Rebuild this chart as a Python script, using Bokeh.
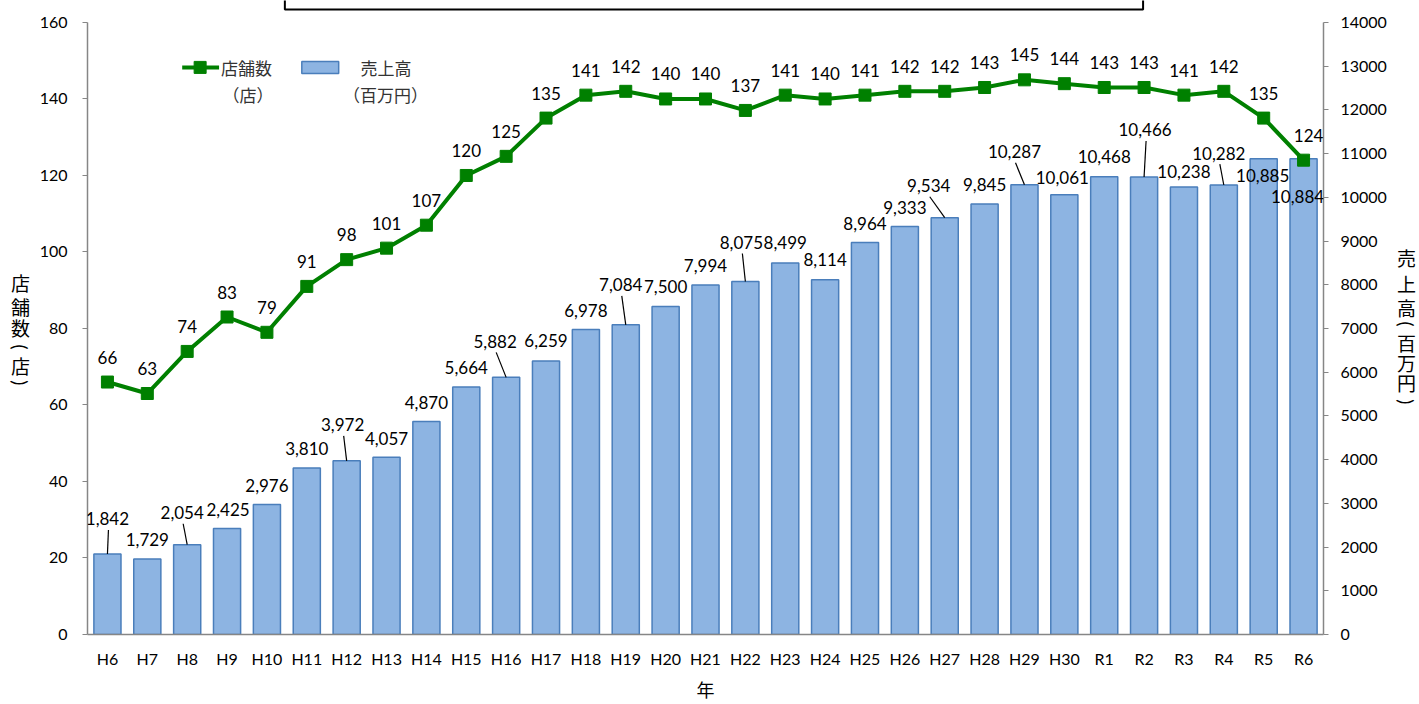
import math
from bokeh.plotting import figure
from bokeh.layouts import row
from bokeh.models import Range1d, LinearAxis, FixedTicker, LabelSet, ColumnDataSource
from bokeh.core.properties import value
from bokeh.embed import file_html
from bokeh.resources import INLINE

# ---------------- data ----------------
years = ["H6", "H7", "H8", "H9", "H10", "H11", "H12", "H13", "H14", "H15",
         "H16", "H17", "H18", "H19", "H20", "H21", "H22", "H23", "H24", "H25",
         "H26", "H27", "H28", "H29", "H30", "R1", "R2", "R3", "R4", "R5", "R6"]
sales = [1842, 1729, 2054, 2425, 2976, 3810, 3972, 4057, 4870, 5664,
         5882, 6259, 6978, 7084, 7500, 7994, 8075, 8499, 8114, 8964,
         9333, 9534, 9845, 10287, 10061, 10468, 10466, 10238, 10282, 10885, 10884]
stores = [66, 63, 74, 83, 79, 91, 98, 101, 107, 120,
          125, 135, 141, 142, 140, 140, 137, 141, 140, 141,
          142, 142, 143, 145, 144, 143, 143, 141, 142, 135, 124]
store_ticks = [0, 20, 40, 60, 80, 100, 120, 140, 160]
sales_ticks = [0, 1000, 2000, 3000, 4000, 5000, 6000, 7000, 8000, 9000,
               10000, 11000, 12000, 13000, 14000]
left_title = ["店", "舗", "数", "(", "店", ")"]
right_title = ["売", "上", "高", "(", "百", "万", "円", ")"]

# label placement (pixels, screen-down positive) for sales labels
sales_dx = [0, 0, -5, 1, 0, 0, -4, 0, 0, 0, -11, 0, 0, -5, 0, 0, -4, 0, 0, 0,
            0, -16, 0, -10, -2, 0, 1, 0, -5, -1, -6]
sales_dy = [-35, -19, -32, -19, -19, -19, -36, -19, -19, -19, -36, -20, -19, -40,
            -20, -20, -39, -20, -20, -19, -19, -32, -20, -33, -17, -20, -47, -15,
            -32, 17, 38]
leader_idx = [0, 2, 6, 10, 13, 16, 21, 23, 26, 28]
store_dx = [0] * 30 + [5]
# screen y (px) of each character of the vertical titles
left_title_y = [282, 306, 328, 347, 366, 383]
right_title_y = [257, 283, 307, 324, 343, 363, 383, 402]

# ---------------- geometry ----------------
H = 704
LW, RW = 36, 27                 # side strips holding the vertical titles
W = 1419 - LW - RW              # main figure width
BL, BT, BB = 83 - LW, 0, 69
FW = 1240
BR = W - BL - FW
FH = H - BT - BB
n = len(years)
x_lo, x_hi = -0.5, n - 0.5
px_per_store = (FH - 22) / 160.0
y_hi = FH / px_per_store
s_hi = y_hi * 14000 / 160.0
px_per_sale = FH / s_hi
px_per_x = FW / (x_hi - x_lo)


def fx(rx):
    return x_lo + (rx - LW - BL) / px_per_x


def fy(ry):
    return y_hi - (ry - BT) / px_per_store


p = figure(width=W, height=H, output_backend="svg", toolbar_location=None,
           x_range=Range1d(x_lo, x_hi), y_range=Range1d(0, y_hi),
           min_border_left=BL, min_border_right=BR, min_border_top=BT,
           min_border_bottom=BB)
p.extra_y_ranges = {"right": Range1d(0, s_hi)}
p.outline_line_color = None
p.xgrid.grid_line_color = None
p.ygrid.grid_line_color = None
p.background_fill_color = "white"
p.border_fill_color = "white"

AX = "#868686"
TICKFONT = "Lato"
CJK = "Noto Sans CJK JP"

# left axis
ly = p.yaxis[0]
ly.ticker = FixedTicker(ticks=store_ticks)
ly.bounds = (0, 160)
ly.axis_line_color = AX
ly.axis_line_width = 1.5
ly.major_tick_line_color = AX
ly.major_tick_out = 5
ly.major_tick_in = 0
ly.minor_tick_out = 0
ly.minor_tick_in = 0
ly.major_label_text_font = TICKFONT
ly.major_label_text_font_size = "16px"
ly.major_label_text_color = "black"
ly.major_label_standoff = 15

# right axis
ry = LinearAxis(y_range_name="right", ticker=FixedTicker(ticks=sales_ticks))
ry.bounds = (0, 14000)
ry.axis_line_color = AX
ry.axis_line_width = 1.5
ry.major_tick_line_color = AX
ry.major_tick_out = 5
ry.major_tick_in = 0
ry.minor_tick_out = 0
ry.minor_tick_in = 0
ry.major_label_text_font = TICKFONT
ry.major_label_text_font_size = "16px"
ry.major_label_text_color = "black"
ry.major_label_standoff = 12
p.add_layout(ry, "right")

# x axis
xa = p.xaxis[0]
xa.ticker = FixedTicker(ticks=list(range(n)))
xa.major_label_overrides = {i: y for i, y in enumerate(years)}
xa.axis_line_color = AX
xa.axis_line_width = 1.5
xa.major_tick_out = 0
xa.major_tick_in = 0
xa.minor_tick_out = 0
xa.minor_tick_in = 0
xa.major_label_text_font = TICKFONT
xa.major_label_text_font_size = "16px"
xa.major_label_text_color = "black"
xa.major_label_standoff = 14
xa.axis_label = "年"
xa.axis_label_text_font = CJK
xa.axis_label_text_font_size = "18px"
xa.axis_label_text_font_style = "normal"
xa.axis_label_text_color = "black"
xa.axis_label_standoff = 5

xs = list(range(n))

# bars
p.vbar(x=xs, top=sales, bottom=0, width=0.68, y_range_name="right",
       fill_color="#8DB4E2", line_color="#4A7EBB", line_width=1.5)

# leader lines
lx0, ly0, lx1, ly1 = [], [], [], []
for i in leader_idx:
    lx0.append(i + (sales_dx[i] + 1) / px_per_x)
    ly0.append(sales[i] - (sales_dy[i] + 11) / px_per_sale)
    lx1.append(i)
    ly1.append(sales[i])
p.segment(x0=lx0, y0=ly0, x1=lx1, y1=ly1, y_range_name="right",
          line_color="black", line_width=1.2)

# sales labels
ssrc = ColumnDataSource(dict(x=xs, y=sales, t=[f"{v:,}" for v in sales],
                             dx=sales_dx, dy=[-d for d in sales_dy]))
p.add_layout(LabelSet(x="x", y="y", text="t", x_offset="dx", y_offset="dy",
                      source=ssrc, y_range_name="right", text_align="center",
                      text_baseline="middle", text_font=value(TICKFONT),
                      text_font_size="17px", text_color="black"))

# store line
p.line(x=xs, y=stores, line_color="#008000", line_width=4)
p.scatter(x=xs, y=stores, marker="square", size=12, fill_color="#008000",
          line_color="#008000")
tsrc = ColumnDataSource(dict(x=xs, y=stores, t=[str(v) for v in stores],
                             dx=store_dx))
p.add_layout(LabelSet(x="x", y="y", text="t", x_offset="dx", y_offset=25,
                      source=tsrc, text_align="center", text_baseline="middle",
                      text_font=value(TICKFONT), text_font_size="17px",
                      text_color="black"))

# legend (manual)
LEGC = "#333333"
p.line(x=[fx(178), fx(215)], y=[fy(67), fy(67)], line_color="#008000", line_width=4)
p.scatter(x=[fx(196)], y=[fy(67)], marker="square", size=12,
          fill_color="#008000", line_color="#008000")
p.text(x=[fx(217)], y=[fy(67)], text=["店舗数"], text_align="left",
       text_baseline="middle", text_font=value(CJK), text_font_size="17px",
       text_color=LEGC)
p.text(x=[fx(244)], y=[fy(94)], text=["（店）"], text_align="center",
       text_baseline="middle", text_font=value(CJK), text_font_size="17px",
       text_color=LEGC)
p.quad(left=[fx(298)], right=[fx(335)], bottom=[fy(73)], top=[fy(61)],
       fill_color="#8DB4E2", line_color="#4A7EBB", line_width=1.5)
p.text(x=[fx(357)], y=[fy(67)], text=["売上高"], text_align="left",
       text_baseline="middle", text_font=value(CJK), text_font_size="17px",
       text_color=LEGC)
p.text(x=[fx(382)], y=[fy(94)], text=["（百万円）"], text_align="center",
       text_baseline="middle", text_font=value(CJK), text_font_size="17px",
       text_color=LEGC)

# title box edge at the very top
p.line(x=[fx(281), fx(281), fx(1142), fx(1142)],
       y=[y_hi + 5, fy(9), fy(9), y_hi + 5], line_color="black", line_width=2)


# vertical (upright) axis titles in narrow side strips
def title_strip(chars, ys_px, width, cx):
    s = figure(width=width, height=H, output_backend="svg", toolbar_location=None,
               x_range=Range1d(0, width), y_range=Range1d(0, FH),
               x_axis_location=None, y_axis_location=None,
               min_border_left=0, min_border_right=0, min_border_top=BT,
               min_border_bottom=BB)
    s.outline_line_color = None
    s.xgrid.grid_line_color = None
    s.ygrid.grid_line_color = None
    s.border_fill_color = "white"
    up = [k for k, c in enumerate(chars) if c not in "()"]
    tu = [k for k, c in enumerate(chars) if c in "()"]
    s.text(x=[cx] * len(up), y=[FH - ys_px[k] for k in up],
           text=[chars[k] for k in up], text_align="center",
           text_baseline="middle", text_font=value(CJK),
           text_font_size="19px", text_color="black")
    # parentheses turned a quarter clockwise, as in vertical writing
    s.text(x=[cx] * len(tu), y=[FH - ys_px[k] for k in tu],
           text=[chars[k] for k in tu], angle=-math.pi / 2,
           text_align="center", text_baseline="middle",
           text_font=value(TICKFONT), text_font_size="19px", text_color="black")
    return s


left_strip = title_strip(left_title, left_title_y, LW, 20)
right_strip = title_strip(right_title, right_title_y, RW, 14)

layout = row(left_strip, p, right_strip, spacing=0)
open("out.html", "w").write(file_html(layout, INLINE))
